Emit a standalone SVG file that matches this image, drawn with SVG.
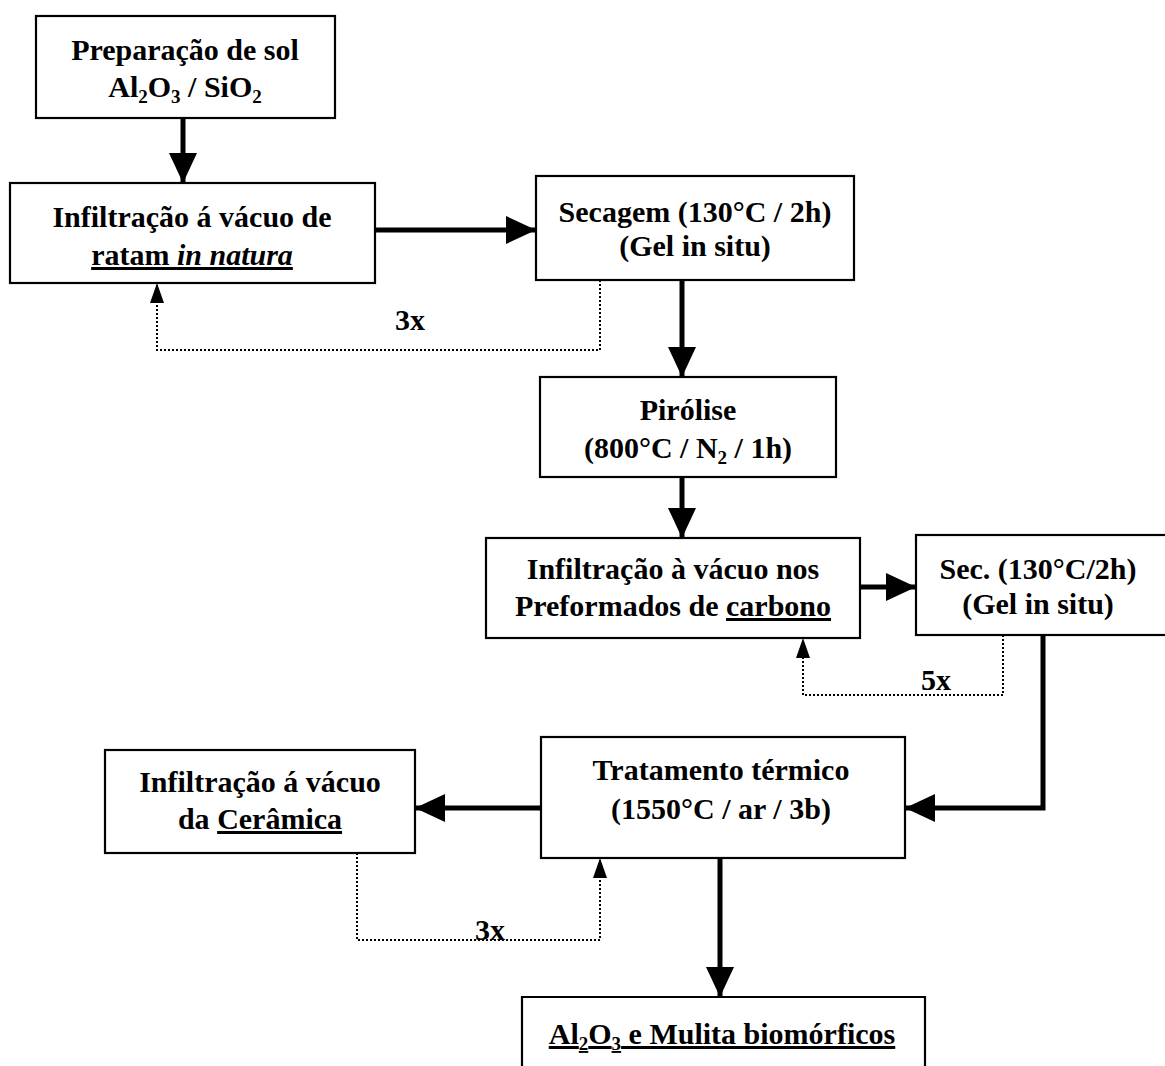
<svg xmlns="http://www.w3.org/2000/svg" width="1165" height="1066" viewBox="0 0 1165 1066">
<style>
.box{fill:#fff;stroke:#000;stroke-width:2.2}
.t{font-family:"Liberation Serif","Times New Roman",serif;font-weight:bold;font-size:30px;text-anchor:middle;fill:#000}
.sub{font-size:19px}
.solid{fill:none;stroke:#000;stroke-width:5}
.dot{fill:none;stroke:#000;stroke-width:2;stroke-dasharray:2 2}
</style>
<defs>
<marker id="ah" viewBox="0 0 30 28" refX="30" refY="14" markerWidth="30" markerHeight="28" markerUnits="userSpaceOnUse" orient="auto"><path d="M0,0 L30,14 L0,28 z" fill="#000"/></marker>
<marker id="ahs" viewBox="0 0 20 14" refX="20" refY="7" markerWidth="20" markerHeight="14" markerUnits="userSpaceOnUse" orient="auto"><path d="M0,0 L20,7 L0,14 z" fill="#000"/></marker>
</defs>
<rect width="1165" height="1066" fill="#fff"/>

<g id="connectors">
<path class="solid" d="M183,118 L183,183" marker-end="url(#ah)"/>
<path class="solid" d="M375,230 L536,230" marker-end="url(#ah)"/>
<path class="solid" d="M682,280 L682,377" marker-end="url(#ah)"/>
<path class="solid" d="M682,477 L682,538" marker-end="url(#ah)"/>
<path class="solid" d="M860,587 L916,587" marker-end="url(#ah)"/>
<path class="solid" d="M1043,635 L1043,808 L905,808" marker-end="url(#ah)"/>
<path class="solid" d="M541,808 L415,808" marker-end="url(#ah)"/>
<path class="solid" d="M720,858 L720,997" marker-end="url(#ah)"/>
<path class="dot" d="M600,280 L600,350 L157,350 L157,283" marker-end="url(#ahs)"/>
<path class="dot" d="M1003,635 L1003,695 L803,695 L803,638" marker-end="url(#ahs)"/>
<path class="dot" d="M357,853 L357,940 L600,940 L600,858" marker-end="url(#ahs)"/>
<text class="t" x="410" y="330">3x</text>
<text class="t" x="936" y="690">5x</text>
<text class="t" x="490" y="940">3x</text>
</g>

<g id="n1">
<rect class="box" x="36" y="16" width="299" height="102"/>
<text class="t" x="185" y="60">Preparação de sol</text>
<text class="t" x="185" y="97">Al<tspan class="sub" dy="6">2</tspan><tspan dy="-6">O</tspan><tspan class="sub" dy="6">3</tspan><tspan dy="-6"> / SiO</tspan><tspan class="sub" dy="6">2</tspan></text>
</g>

<g id="n2">
<rect class="box" x="10" y="183" width="365" height="100"/>
<text class="t" x="192" y="227">Infiltração á vácuo de</text>
<text class="t" x="192" y="265" text-decoration="underline">ratam <tspan font-style="italic">in natura</tspan></text>
</g>

<g id="n3">
<rect class="box" x="536" y="176" width="318" height="104"/>
<text class="t" x="695" y="222">Secagem (130°C / 2h)</text>
<text class="t" x="695" y="256">(Gel in situ)</text>
</g>

<g id="n4">
<rect class="box" x="540" y="377" width="296" height="100"/>
<text class="t" x="688" y="420">Pirólise</text>
<text class="t" x="688" y="458">(800°C / N<tspan class="sub" dy="6">2</tspan><tspan dy="-6"> / 1h)</tspan></text>
</g>

<g id="n5">
<rect class="box" x="486" y="538" width="374" height="100"/>
<text class="t" x="673" y="579">Infiltração à vácuo nos</text>
<text class="t" x="673" y="616">Preformados de <tspan text-decoration="underline">carbono</tspan></text>
</g>

<g id="n6">
<rect class="box" x="916" y="535" width="260" height="100"/>
<text class="t" x="1038" y="579">Sec. (130°C/2h)</text>
<text class="t" x="1038" y="614">(Gel in situ)</text>
</g>

<g id="n7">
<rect class="box" x="541" y="737" width="364" height="121"/>
<text class="t" x="721" y="780">Tratamento térmico</text>
<text class="t" x="721" y="819">(1550°C / ar / 3b)</text>
</g>

<g id="n8">
<rect class="box" x="105" y="750" width="310" height="103"/>
<text class="t" x="260" y="792">Infiltração á vácuo</text>
<text class="t" x="260" y="829">da <tspan text-decoration="underline">Cerâmica</tspan></text>
</g>

<g id="n9">
<path class="box" d="M522,1070 L522,997 L925,997 L925,1070"/>
<text class="t" x="722" y="1044" text-decoration="underline">Al<tspan class="sub" dy="6">2</tspan><tspan dy="-6">O</tspan><tspan class="sub" dy="6">3</tspan><tspan dy="-6"> e Mulita biomórficos</tspan></text>
</g>
</svg>
